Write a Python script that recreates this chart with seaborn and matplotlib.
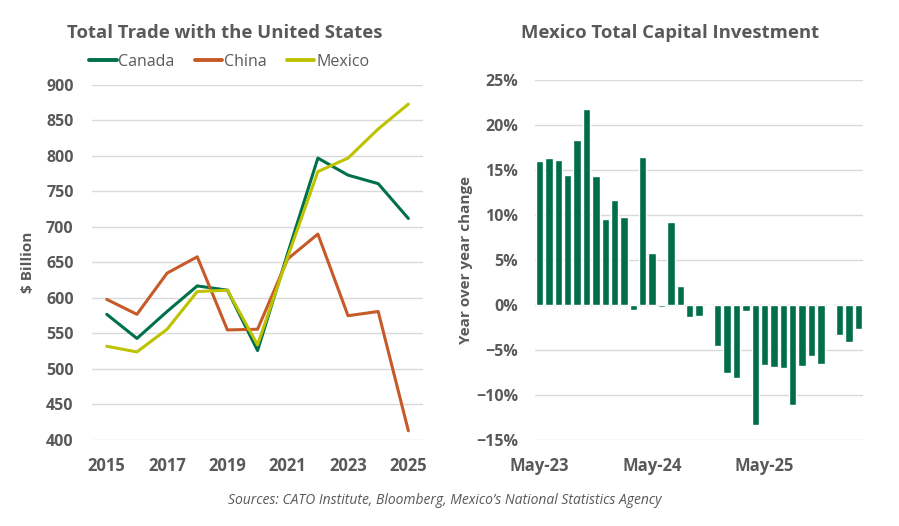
import numpy as np
import pandas as pd
import matplotlib
matplotlib.use("Agg")
import matplotlib.pyplot as plt
import seaborn as sns
from matplotlib.ticker import PercentFormatter

# Données
years = [2015, 2016, 2017, 2018, 2019, 2020, 2021, 2022, 2023, 2024, 2025]
canada = [577, 543, 581, 617, 611, 526, 663, 797, 773, 761, 712]
china = [598, 577, 635, 658, 555, 556, 655, 690, 575, 581, 413]
mexico = [532, 524, 556, 609, 611, 534, 658, 778, 797, 838, 873]

months = pd.date_range("2023-05-01", periods=35, freq="MS").strftime("%b-%y").tolist()
capex_yoy = [16.0, 16.3, 16.1, 14.4, 18.3, 21.8, 14.3, 9.6, 11.7, 9.8,
             -0.55, 16.4, 5.8, -0.2, 9.2, 2.1, -1.3, -1.2, -0.15, -4.5,
             -7.5, -8.1, -0.67, -13.3, -6.7, -6.9, -7.0, -11.1, -6.8, -5.7,
             -6.5, -0.15, -3.3, -4.1, -2.7]

sns.set_theme(style="white")
plt.rcParams["font.family"] = ["Open Sans", "DejaVu Sans"]

grey = "#595959"
grid = "#d9d9d9"
colors = {"Canada": "#00704A", "China": "#C65A28", "Mexico": "#BDC300"}

df_trade = pd.DataFrame({"year": years, "Canada": canada, "China": china, "Mexico": mexico})
df_trade = df_trade.melt(id_vars="year", var_name="country", value_name="value")

df_capex = pd.DataFrame({"month": months, "yoy": capex_yoy})

fig = plt.figure(figsize=(8.99, 5.26), dpi=100)
ax1 = fig.add_axes([0.102, 0.1635, 0.369, 0.675])
ax2 = fig.add_axes([0.595, 0.163, 0.365, 0.685])

# Graphique de gauche : commerce total
sns.lineplot(data=df_trade, x="year", y="value", hue="country", palette=colors,
             linewidth=2.2, ax=ax1, legend=False)
ax1.set_xlim(2014.5, 2025.5)
ax1.set_ylim(400, 900)
ax1.set_yticks(range(400, 901, 50))
ax1.set_xticks(years[::2])
ax1.yaxis.grid(True, color=grid, linewidth=1)
ax1.set_xlabel("")
ax1.set_ylabel("$ Billion", fontsize=11, color=grey, fontweight="bold", labelpad=8)
ax1.tick_params(axis="y", labelsize=11.5, colors=grey, length=0, pad=13)
ax1.tick_params(axis="x", labelsize=12, colors=grey, length=0, pad=12)
for lab in ax1.get_xticklabels() + ax1.get_yticklabels():
    lab.set_fontweight("bold")
for s in ax1.spines.values():
    s.set_visible(False)

handles = [plt.Line2D([], [], color=colors[c], linewidth=2.8) for c in ["Canada", "China", "Mexico"]]
leg = fig.legend(handles, ["Canada", "China", "Mexico"], loc="center", bbox_to_anchor=(0.255, 0.882),
                 ncol=3, frameon=False, fontsize=11.5, handlelength=1.7, handletextpad=0.1,
                 columnspacing=1.3)
for t in leg.get_texts():
    t.set_color(grey)

fig.text(0.25, 0.937, "Total Trade with the United States", ha="center", va="center",
         fontsize=13.3, fontweight="bold", color=grey)

# Graphique de droite : investissement au Mexique
sns.barplot(data=df_capex, x="month", y="yoy", color="#006E4B", saturation=1,
            width=0.78, ax=ax2)
ax2.set_ylim(-15, 25)
ax2.set_yticks(range(-15, 26, 5))
ax2.yaxis.set_major_formatter(PercentFormatter(decimals=0))
ax2.set_xticks([0, 12, 24])
ax2.set_xticklabels([months[0], months[12], months[24]])
ax2.yaxis.grid(True, color=grid, linewidth=1)
ax2.set_axisbelow(True)
ax2.set_xlabel("")
ax2.set_ylabel("Year over year change", fontsize=11, color=grey, fontweight="bold", labelpad=2)
ax2.tick_params(axis="y", labelsize=11.5, colors=grey, length=0, pad=12)
ax2.tick_params(axis="x", labelsize=12, colors=grey, length=0, pad=12)
for lab in ax2.get_xticklabels() + ax2.get_yticklabels():
    lab.set_fontweight("bold")
for s in ax2.spines.values():
    s.set_visible(False)

fig.text(0.745, 0.937, "Mexico Total Capital Investment", ha="center", va="center",
         fontsize=13.3, fontweight="bold", color=grey)

fig.text(0.495, 0.048, "Sources: CATO Institute, Bloomberg, Mexico\u2019s National Statistics Agency",
         ha="center", va="center", fontsize=10, style="italic", color=grey)

fig.savefig("out.png", dpi=100)
